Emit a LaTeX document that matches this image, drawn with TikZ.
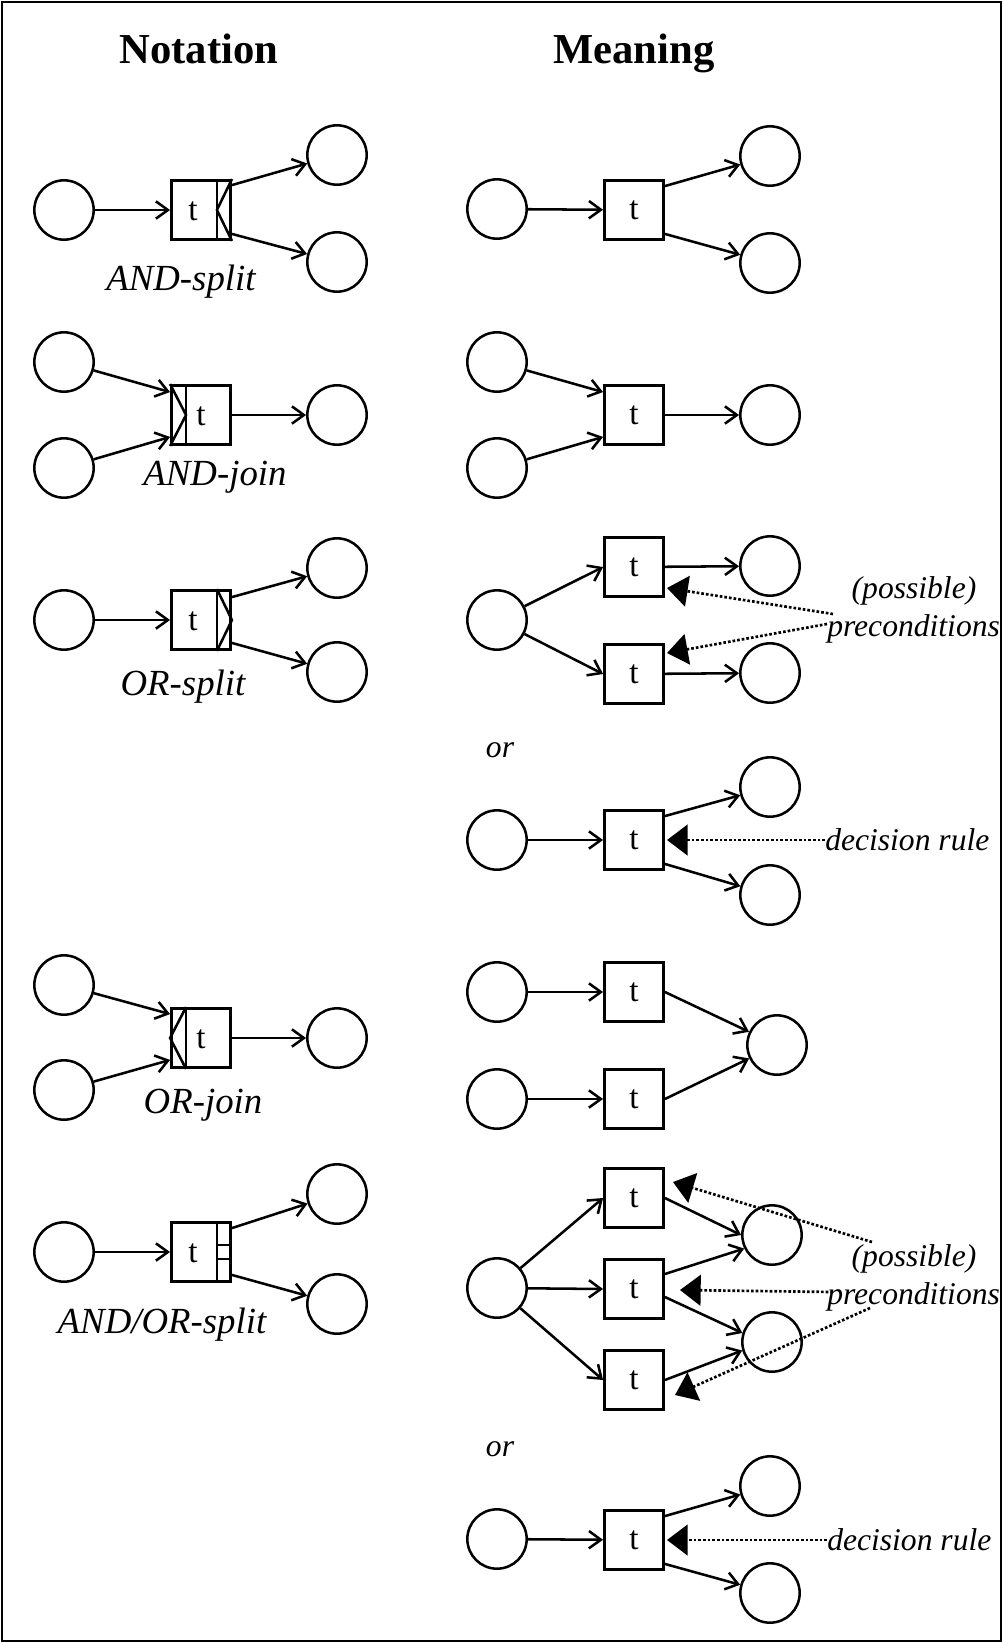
\documentclass[tikz,border=0pt]{standalone}
\usepackage{fontspec}
\setmainfont{Liberation Serif}
\usetikzlibrary{arrows.meta,calc}
\newcommand\myheadfont{\fontsize{32pt}{36pt}\selectfont\bfseries}
\newcommand\mylabfont{\fontsize{27.6pt}{31pt}\selectfont\itshape}
\newcommand\myannfont{\fontsize{23.7pt}{27pt}\selectfont\itshape}
\newcommand\mytfont{\fontsize{25pt}{28pt}\selectfont}
\begin{document}
\begin{tikzpicture}[x=0.75pt,y=-0.75pt,
  place/.style={circle,draw,line width=1.9pt,minimum size=44.5pt,inner sep=0pt},
  trans/.style={rectangle,draw,line width=1.9pt,minimum size=44.5pt,inner sep=0pt,font=\mytfont},
  tlab/.style={inner sep=0pt,font=\mytfont},
  lab/.style={inner sep=0pt,anchor=base,font=\mylabfont},
  ann/.style={inner sep=0pt,font=\myannfont},
  head/.style={inner sep=0pt,anchor=base,font=\myheadfont},
  arr/.style={line width=1.9pt,-{Straight Barb[length=9pt,width=13pt]}},
  dots/.style={line width=2pt,dash pattern=on 2pt off 1.5pt,-{Triangle[length=15.5pt,width=23pt]}},
  thinl/.style={line width=1.9pt}
]
\useasboundingbox (0,0) rectangle (1003,1643);
\node[draw,line width=1.5pt,minimum width=749.5pt,minimum height=1229pt,inner sep=0pt] (frame) at (501.5,821.5) {};

\node[head] (h1) at (199,63) {Notation};
\node[head] (h2) at (634,63) {Meaning};

% ---------- Row 1 left: AND-split
\node[place] (p1a) at (64,210) {};
\node[trans] (b1) at (201,210) {};
\node[tlab] (b1t) at (193,211) {t};
\node[place] (p1b) at (337,155) {};
\node[place] (p1c) at (337,262) {};
\draw[thinl] ($(b1.north east)+(-15,0)$) -- ($(b1.south east)+(-15,0)$);
\draw[thinl] (b1.north east) -- ($(b1.east)+(-15,0)$) -- (b1.south east);
\draw[arr] (p1a) -- (b1);
\draw[arr] ($(b1.north east)+(0,6)$) -- (p1b);
\draw[arr] ($(b1.south east)+(0,-7)$) -- (p1c);
\node[lab] (l1) at (181,290) {AND-split};

% ---------- Row 2 left: AND-join
\node[place] (p2a) at (64,362) {};
\node[place] (p2b) at (64,468) {};
\node[trans] (b2) at (201,415) {};
\node[tlab] (b2t) at (201,416) {t};
\node[place] (p2c) at (337,415) {};
\draw[thinl] ($(b2.north west)+(16,0)$) -- ($(b2.south west)+(16,0)$);
\draw[thinl] (b2.north west) -- ($(b2.west)+(16,0)$) -- (b2.south west);
\draw[arr] (p2a) -- ($(b2.north west)+(0,8)$);
\draw[arr] (p2b) -- ($(b2.south west)+(0,-9)$);
\draw[arr] (b2) -- (p2c);
\node[lab] (l2) at (215,485) {AND-join};

% ---------- Row 3 left: OR-split
\node[place] (p3a) at (64,620) {};
\node[trans] (b3) at (201,620) {};
\node[tlab] (b3t) at (193,621) {t};
\node[place] (p3b) at (337,568) {};
\node[place] (p3c) at (337,672) {};
\draw[thinl] ($(b3.north east)+(-15,0)$) -- ($(b3.south east)+(-15,0)$);
\draw[thinl] ($(b3.north east)+(-15,0)$) -- (b3.east) -- ($(b3.south east)+(-15,0)$);
\draw[arr] (p3a) -- (b3);
\draw[arr] ($(b3.north east)+(0,8)$) -- (p3b);
\draw[arr] ($(b3.south east)+(0,-8)$) -- (p3c);
\node[lab] (l3) at (183,695) {OR-split};

% ---------- Row 4 left: OR-join
\node[place] (p4a) at (64,985) {};
\node[place] (p4b) at (64,1090) {};
\node[trans] (b4) at (201,1038) {};
\node[tlab] (b4t) at (201,1039) {t};
\node[place] (p4c) at (337,1038) {};
\draw[thinl] ($(b4.north west)+(16,0)$) -- ($(b4.south west)+(16,0)$);
\draw[thinl] ($(b4.north west)+(16,0)$) -- (b4.west) -- ($(b4.south west)+(16,0)$);
\draw[arr] (p4a) -- ($(b4.north west)+(0,7)$);
\draw[arr] (p4b) -- ($(b4.south west)+(0,-9)$);
\draw[arr] (b4) -- (p4c);
\node[lab] (l4) at (203,1113) {OR-join};

% ---------- Row 5 left: AND/OR-split
\node[place] (p5a) at (64,1252) {};
\node[trans] (b5) at (201,1252) {};
\node[tlab] (b5t) at (193,1253) {t};
\node[place] (p5b) at (337,1194) {};
\node[place] (p5c) at (337,1304) {};
\draw[thinl] ($(b5.north east)+(-15,0)$) -- ($(b5.south east)+(-15,0)$);
\draw[thinl] ($(b5.east)+(-15,-7)$) -- ($(b5.east)+(0,-7)$);
\draw[thinl] ($(b5.east)+(-15,7)$) -- ($(b5.east)+(0,7)$);
\draw[arr] (p5a) -- (b5);
\draw[arr] ($(b5.north east)+(0,7)$) -- (p5b);
\draw[arr] ($(b5.south east)+(0,-8)$) -- (p5c);
\node[lab] (l5) at (162,1333) {AND/OR-split};

% ========== Right column
% Row 1
\node[place] (q1a) at (497,209) {};
\node[trans] (t1) at (634,210) {t};
\node[place] (q1b) at (770,156) {};
\node[place] (q1c) at (770,263) {};
\draw[arr] (q1a) -- (t1);
\draw[arr] ($(t1.north east)+(0,7)$) -- (q1b);
\draw[arr] ($(t1.south east)+(0,-7)$) -- (q1c);

% Row 2
\node[place] (q2a) at (497,362) {};
\node[place] (q2b) at (497,468) {};
\node[trans] (t2) at (634,415) {t};
\node[place] (q2c) at (770,415) {};
\draw[arr] (q2a) -- ($(t2.north west)+(0,8)$);
\draw[arr] (q2b) -- ($(t2.south west)+(0,-9)$);
\draw[arr] (t2) -- (q2c);

% Row 3
\node[place] (q3a) at (497,620) {};
\node[trans] (t3a) at (634,567) {t};
\node[trans] (t3b) at (634,674) {t};
\node[place] (q3b) at (770,566) {};
\node[place] (q3c) at (770,673) {};
\draw[arr] (q3a) -- (t3a.west);
\draw[arr] (q3a) -- (t3b.west);
\draw[arr] (t3a) -- (q3b);
\draw[arr] (t3b) -- (q3c);
\node[ann,anchor=base] (pos3) at (914,598) {(possible)};
\node[ann,anchor=base west] (pre3) at (827,636) {preconditions};
\coordinate (d3a) at (833,614);
\coordinate (d3b) at (827,624);
\coordinate (k3a) at (667,588);
\coordinate (k3b) at (667,653);
\draw[dots] (d3a) -- (k3a);
\draw[dots] (d3b) -- (k3b);

\node[ann] (or1) at (500,750) {or};

% Row 3b: decision rule
\node[place] (q4a) at (497,840) {};
\node[trans] (t4) at (634,840) {t};
\node[place] (q4b) at (770,787) {};
\node[place] (q4c) at (770,895) {};
\draw[arr] (q4a) -- (t4);
\draw[arr] ($(t4.north east)+(0,7)$) -- (q4b);
\draw[arr] ($(t4.south east)+(0,-7)$) -- (q4c);
\node[ann,anchor=west] (dr1) at (825,840) {decision rule};
\coordinate (k4) at (667,840);
\draw[dots] (dr1.west) -- (k4);

% Row 4 right
\node[place] (r4a) at (497,992) {};
\node[place] (r4b) at (497,1099) {};
\node[trans] (u4a) at (634,992) {t};
\node[trans] (u4b) at (634,1099) {t};
\node[place] (r4c) at (777,1045) {};
\draw[arr] (r4a) -- (u4a);
\draw[arr] (r4b) -- (u4b);
\draw[arr] (u4a.east) -- (r4c);
\draw[arr] (u4b.east) -- (r4c);

% Row 5 right
\node[place] (s5a) at (497,1288) {};
\node[trans] (v5a) at (634,1198) {t};
\node[trans] (v5b) at (634,1289) {t};
\node[trans] (v5c) at (634,1380) {t};
\node[place] (s5b) at (772,1235) {};
\node[place] (s5c) at (772,1342) {};
\draw[arr] (s5a) -- (v5a.west);
\draw[arr] (s5a) -- (v5b.west);
\draw[arr] (s5a) -- (v5c.west);
\draw[arr] (v5a.east) -- (s5b.west);
\draw[arr] ($(v5b.east)+(0,-15)$) -- (s5b.206);
\draw[arr] ($(v5b.east)+(0,8)$) -- (s5c.163);
\draw[arr] (v5c.east) -- (s5c.196);
\node[ann,anchor=base] (pos5) at (914,1266) {(possible)};
\node[ann,anchor=base west] (pre5) at (827,1304) {preconditions};
\coordinate (d5a) at (872,1242);
\coordinate (d5b) at (833,1292);
\coordinate (d5c) at (870,1308);
\coordinate (k5a) at (673,1182);
\coordinate (k5b) at (680,1290);
\coordinate (k5c) at (675,1395);
\draw[dots] (d5a) -- (k5a);
\draw[dots] (d5b) -- (k5b);
\draw[dots] (d5c) -- (k5c);

\node[ann] (or2) at (500,1449) {or};

% Row 6: decision rule
\node[place] (q6a) at (497,1539) {};
\node[trans] (t6) at (634,1540) {t};
\node[place] (q6b) at (770,1486) {};
\node[place] (q6c) at (770,1593) {};
\draw[arr] (q6a) -- (t6);
\draw[arr] ($(t6.north east)+(0,7)$) -- (q6b);
\draw[arr] ($(t6.south east)+(0,-7)$) -- (q6c);
\node[ann,anchor=west] (dr2) at (827,1540) {decision rule};
\coordinate (k6) at (667,1540);
\draw[dots] (dr2.west) -- (k6);
\end{tikzpicture}
\end{document}
